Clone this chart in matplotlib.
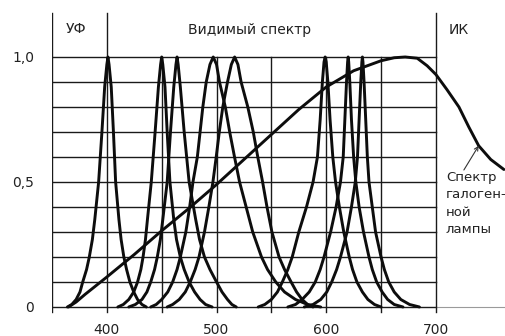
import matplotlib
matplotlib.use("Agg")
import matplotlib.pyplot as plt

# ---------------- data ----------------
halogen_wl = [365, 372, 380, 400, 425, 450, 475, 500, 525, 550, 575, 600, 625, 650,
              662, 672, 683, 692, 700, 710, 721, 730, 739, 750, 762]
halogen_v = [0.0, 0.02, 0.05, 0.12, 0.21, 0.305, 0.395, 0.49, 0.59, 0.69, 0.79, 0.88,
             0.945, 0.985, 0.997, 1.0, 0.995, 0.965, 0.93, 0.87, 0.80, 0.72, 0.645, 0.59, 0.55]

led400_wl = [364, 368, 372, 375.5, 378, 381.5, 384, 386.8, 389, 392.5, 395.5, 398, 400, 401,
             402, 404, 406, 408, 411, 413, 415.5, 418, 421, 424.5, 428, 432, 436]
led400_v = [0, 0.01, 0.03, 0.06, 0.1, 0.15, 0.2, 0.27, 0.35, 0.5, 0.7, 0.88, 0.97, 1.0,
            0.97, 0.88, 0.7, 0.5, 0.35, 0.27, 0.2, 0.15, 0.1, 0.06, 0.03, 0.01, 0]

led450_wl = [410, 415, 420, 424.5, 428, 431, 433, 435.2, 437, 440.5, 444, 447, 449, 450,
             451, 453, 455, 457.5, 461, 463.5, 467, 470.5, 475, 480, 485, 490, 496]
led450_v = [0, 0.01, 0.03, 0.06, 0.1, 0.15, 0.2, 0.27, 0.35, 0.5, 0.7, 0.88, 0.97, 1.0,
            0.97, 0.88, 0.7, 0.5, 0.35, 0.27, 0.2, 0.15, 0.1, 0.06, 0.03, 0.01, 0]

led464_wl = [420, 426, 432, 436.5, 440, 443.5, 446, 448.8, 451, 455, 458, 461, 463, 464,
             465, 467, 470.5, 475, 481, 484.5, 489, 494, 500, 505, 510, 514, 518]
led464_v = [0, 0.01, 0.03, 0.06, 0.1, 0.15, 0.2, 0.27, 0.35, 0.5, 0.7, 0.88, 0.97, 1.0,
            0.97, 0.88, 0.7, 0.5, 0.35, 0.27, 0.2, 0.15, 0.1, 0.06, 0.03, 0.01, 0]

led497_wl = [440, 445, 450, 455.5, 460, 464, 467, 472, 475.5, 478.5, 482.5, 485, 487.5, 490.6,
             494, 497, 500, 502.7, 508, 512, 516.4, 521, 527, 533, 541, 546.5, 554, 562,
             572, 583, 595]
led497_v = [0, 0.01, 0.03, 0.06, 0.1, 0.15, 0.2, 0.3, 0.4, 0.5, 0.6, 0.7, 0.8, 0.9,
            0.97, 1.0, 0.97, 0.9, 0.8, 0.7, 0.6, 0.5, 0.4, 0.3, 0.2, 0.15, 0.1, 0.06,
            0.03, 0.01, 0]

led516_wl = [455, 460, 466, 471.5, 476, 480.5, 484, 489, 493, 496.7, 499.7, 502.5, 505.7, 510,
             513.5, 516.5, 519.5, 522.4, 528.5, 533.5, 537.6, 542, 546, 550.5, 557, 562, 568,
             573, 578, 583, 588]
led516_v = [0, 0.01, 0.03, 0.06, 0.1, 0.15, 0.2, 0.3, 0.4, 0.5, 0.6, 0.7, 0.8, 0.9,
            0.97, 1.0, 0.97, 0.9, 0.8, 0.7, 0.6, 0.5, 0.4, 0.3, 0.2, 0.15, 0.1, 0.06,
            0.03, 0.01, 0]

led599_wl = [538, 544, 550, 555.5, 560, 565, 569, 575, 582, 588, 592, 594.5, 596.5, 598, 599,
             600, 601.5, 603.5, 606, 608.5, 612, 616, 621, 624, 628, 633, 638, 644, 650]
led599_v = [0, 0.01, 0.03, 0.06, 0.1, 0.15, 0.2, 0.3, 0.4, 0.5, 0.6, 0.75, 0.9, 0.98, 1.0,
            0.98, 0.9, 0.75, 0.6, 0.5, 0.4, 0.3, 0.2, 0.15, 0.1, 0.06, 0.03, 0.01, 0]

led620_wl = [565, 572, 578, 584.5, 590, 594.5, 598, 604, 609, 613, 615.5, 617, 618.5, 619.5, 620,
             620.5, 621.5, 623, 625, 627, 630, 634, 639, 642, 646, 651, 656, 662, 670]
led620_v = [0, 0.01, 0.03, 0.06, 0.1, 0.15, 0.2, 0.3, 0.4, 0.5, 0.6, 0.75, 0.9, 0.98, 1.0,
            0.98, 0.9, 0.75, 0.6, 0.5, 0.4, 0.3, 0.2, 0.15, 0.1, 0.06, 0.03, 0.01, 0]

led633_wl = [580, 588, 595, 600.5, 605, 609.5, 613, 619, 623, 626.5, 628.5, 630, 631.5, 632.5, 633,
             633.5, 634.5, 636, 637.5, 639, 642, 645, 650, 653, 657, 662, 668, 676, 685]
led633_v = [0, 0.01, 0.03, 0.06, 0.1, 0.15, 0.2, 0.3, 0.4, 0.5, 0.6, 0.75, 0.9, 0.98, 1.0,
            0.98, 0.9, 0.75, 0.6, 0.5, 0.4, 0.3, 0.2, 0.15, 0.1, 0.06, 0.03, 0.01, 0]

x_ticks = [400, 500, 600, 700]
x_tick_labels = ["400", "500", "600", "700"]
y_ticks = [0, 0.5, 1.0]
y_tick_labels = ["0", "0,5", "1,0"]
grid_y = [0.1 * i for i in range(11)]
grid_x_short = [450, 500, 550, 600, 650]
grid_x_tall = [350, 400, 700]

region_labels = ["УФ", "Видимый спектр", "ИК"]
halogen_label = "Спектр\nгалоген-\nной\nлампы"

# ---------------- figure ----------------
plt.rcParams['font.family'] = ['DejaVu Sans']
fig = plt.figure(figsize=(5.05, 3.36), dpi=100)
ax = fig.add_axes([0.103, 0.064, 0.897, 0.9003])
ax.set_xlim(350, 763)
ax.set_ylim(-0.03, 1.18)
for s in ax.spines.values():
    s.set_visible(False)

grid_kw = dict(color="#1a1a1a", lw=1.0, zorder=1)
for gy in grid_y:
    ax.plot([350, 700], [gy, gy], **grid_kw)
ax.plot([700, 763], [0, 0], color="#9a9a9a", lw=0.8, zorder=1)
for gx in grid_x_short:
    ax.plot([gx, gx], [-0.02, 1.0], **grid_kw)
for gx in grid_x_tall:
    ax.plot([gx, gx], [-0.02, 1.176], **grid_kw)

curve_kw = dict(color="#0d0d0d", lw=2.1, zorder=3, solid_joinstyle="round", solid_capstyle="round")
for wl, v in [(led400_wl, led400_v), (led450_wl, led450_v), (led464_wl, led464_v),
              (led497_wl, led497_v), (led516_wl, led516_v), (led599_wl, led599_v),
              (led620_wl, led620_v), (led633_wl, led633_v)]:
    ax.plot(wl, v, **curve_kw)
ax.plot(halogen_wl, halogen_v, clip_on=False, **curve_kw)

ax.set_xticks(x_ticks)
ax.set_xticklabels(x_tick_labels, fontsize=10, color="#222222")
ax.set_yticks(y_ticks)
ax.set_yticklabels(y_tick_labels, fontsize=10, color="#222222")
ax.tick_params(axis="both", length=0)
ax.tick_params(axis="x", pad=6)
ax.tick_params(axis="y", pad=13)

ax.text(372, 1.112, region_labels[0], ha="center", va="center", fontsize=10, color="#222222")
ax.text(530, 1.108, region_labels[1], ha="center", va="center", fontsize=10, color="#222222")
ax.text(721, 1.108, region_labels[2], ha="center", va="center", fontsize=10, color="#222222")
ax.text(709, 0.545, halogen_label, ha="left", va="top", fontsize=9.5, color="#222222",
        linespacing=1.45, clip_on=False)
ax.annotate("", xy=(739, 0.645), xytext=(725.5, 0.548),
            arrowprops=dict(arrowstyle="->", color="#333333", lw=0.8, shrinkA=0, shrinkB=0,
                            mutation_scale=7))

fig.savefig("out.png", dpi=100)
